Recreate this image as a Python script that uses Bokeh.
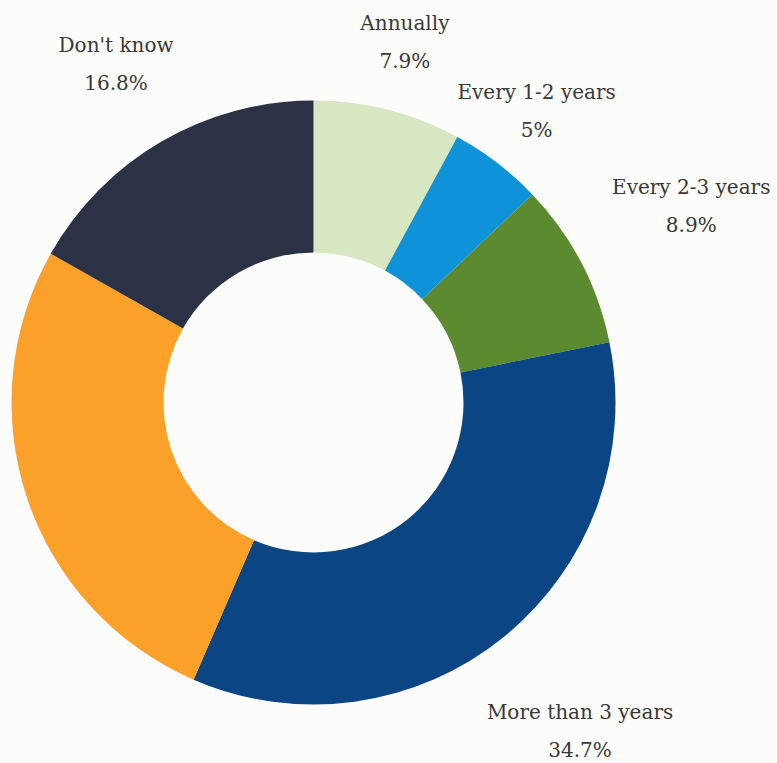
import math
from bokeh.plotting import figure
from bokeh.models import Range1d, ColumnDataSource
from bokeh.core.properties import value
from bokeh.embed import file_html
from bokeh.resources import INLINE

# ---- data ----
categories = ["Annually", "Every 1-2 years", "Every 2-3 years",
              "More than 3 years", "Other", "Don't know"]
shares = [7.9, 5.0, 8.9, 34.7, 26.7, 16.8]
pct_labels = ["7.9%", "5%", "8.9%", "34.7%", "26.7%", "16.8%"]
colors = ["#d6e7c1", "#0e93d8", "#5b8a2f", "#0c4584", "#fba129", "#2b3246"]
show_label = [True, True, True, True, False, True]
label_radius = [372, 367, 426, 423, 400, 392]

W, H = 777, 763
cx, cy = 313, H - 402
R_out, R_in = 302, 150

total = sum(shares)
starts, ends = [], []
cum = 0.0
for s in shares:
    a0 = math.pi / 2 - 2 * math.pi * cum / total
    cum += s
    a1 = math.pi / 2 - 2 * math.pi * cum / total
    starts.append(a0)
    ends.append(a1)

src = ColumnDataSource(dict(start=starts, end=ends, color=colors))

p = figure(width=W, height=H, output_backend="svg", toolbar_location=None,
           x_range=Range1d(0, W), y_range=Range1d(0, H),
           background_fill_color="#fcfcfa", border_fill_color="#fcfcfa",
           min_border=0)
p.axis.visible = False
p.grid.visible = False
p.outline_line_color = None

p.annular_wedge(x=cx, y=cy, inner_radius=R_in, outer_radius=R_out,
                start_angle="start", end_angle="end", direction="clock",
                fill_color="color", line_color=None, source=src)

nx, ny, nt, px, py, pt = [], [], [], [], [], []
for i, cat in enumerate(categories):
    if not show_label[i]:
        continue
    mid = (starts[i] + ends[i]) / 2
    x = cx + label_radius[i] * math.cos(mid)
    y = cy + label_radius[i] * math.sin(mid)
    nx.append(x); ny.append(y + 19); nt.append(cat)
    px.append(x); py.append(y - 19); pt.append(pct_labels[i])

for xs, ys, ts in [(nx, ny, nt), (px, py, pt)]:
    p.text(x=xs, y=ys, text=ts, text_font=value("DejaVu Serif"),
           text_font_size="20px", text_color="#383838",
           text_align="center", text_baseline="middle")

open("out.html", "w").write(file_html(p, INLINE))
